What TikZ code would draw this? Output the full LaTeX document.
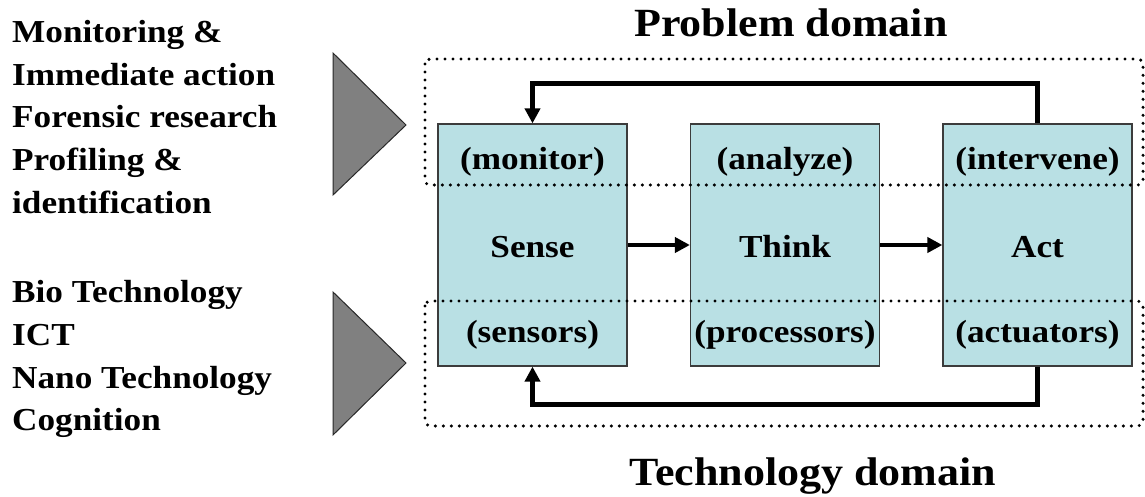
\documentclass[tikz,border=0pt]{standalone}
\usepackage{fontspec}
\setmainfont{Liberation Serif}[FakeStretch=1.1]
\usetikzlibrary{arrows.meta}
\definecolor{boxfill}{RGB}{185,224,228}
\definecolor{boxline}{RGB}{60,60,60}
\definecolor{trifill}{RGB}{128,128,128}
\definecolor{triline}{RGB}{40,40,40}
\tikzset{
  stagebox/.style={draw=boxline, line width=1.2pt, fill=boxfill, minimum width=189pt, minimum height=242pt, inner sep=0pt},
  dotframe/.style={line width=3.4pt, dash pattern=on 0pt off 8pt, line cap=round, rounded corners=5pt},
  flow/.style={line width=4.5pt, -{Triangle[length=15pt,width=15pt]}},
  lbl/.style={font=\fontsize{32}{38}\selectfont\bfseries, anchor=base, inner sep=0pt},
  side/.style={font=\fontsize{32}{38}\selectfont\bfseries, anchor=base west, inner sep=0pt},
  ttl/.style={font=\fontsize{40}{48}\selectfont\bfseries, anchor=base, inner sep=0pt},
  tri/.style={draw=triline, line width=1pt, fill=trifill}
}
\begin{document}
\begin{tikzpicture}[x=1pt,y=-1pt]
\useasboundingbox (0,0) rectangle (1145,497);
% stage boxes
\node[stagebox] (sense) at (532.5,245) {};
\node[stagebox] (think) at (785,245) {};
\node[stagebox] (act) at (1037.5,245) {};
% dotted domain frames
\draw[dotframe] (425,59) rectangle (1143,185);
\draw[dotframe] (425,301) rectangle (1143,426);
% triangles
\draw[tri] (333,53) -- (406,125) -- (333,195) -- cycle;
\draw[tri] (333,292) -- (406,363) -- (333,435) -- cycle;
% arrows
\draw[flow] (sense.east) -- (think.west);
\draw[flow] (think.east) -- (act.west);
\draw[flow] (act.north) -- ++(0,-40) -| (sense.north);
\draw[flow] (act.south) -- ++(0,38) -| (sense.south);
% box labels
\node[lbl] (monitor) at (532.5,170) {(monitor)};
\node[lbl] (analyze) at (785,170) {(analyze)};
\node[lbl] (intervene) at (1037.5,170) {(intervene)};
\node[lbl] (senseT) at (532.5,257) {Sense};
\node[lbl] (thinkT) at (785,257) {Think};
\node[lbl] (actT) at (1037.5,257) {Act};
\node[lbl] (sensors) at (532.5,342) {(sensors)};
\node[lbl] (processors) at (785,342) {(processors)};
\node[lbl] (actuators) at (1037.5,342) {(actuators)};
% titles
\node[ttl] (pd) at (791,37) {Problem domain};
\node[ttl] (td) at (813,485) {Technology domain};
% side texts
\node[side] (s1) at (12,43) {Monitoring \&};
\node[side] (s2) at (12,86) {Immediate action};
\node[side] (s3) at (12,128) {Forensic research};
\node[side] (s4) at (12,171) {Profiling \&};
\node[side] (s5) at (12,213) {identification};
\node[side] (t1) at (12,302) {Bio Technology};
\node[side] (t2) at (12,345) {ICT};
\node[side] (t3) at (12,388) {Nano Technology};
\node[side] (t4) at (12,430) {Cognition};
\end{tikzpicture}
\end{document}
